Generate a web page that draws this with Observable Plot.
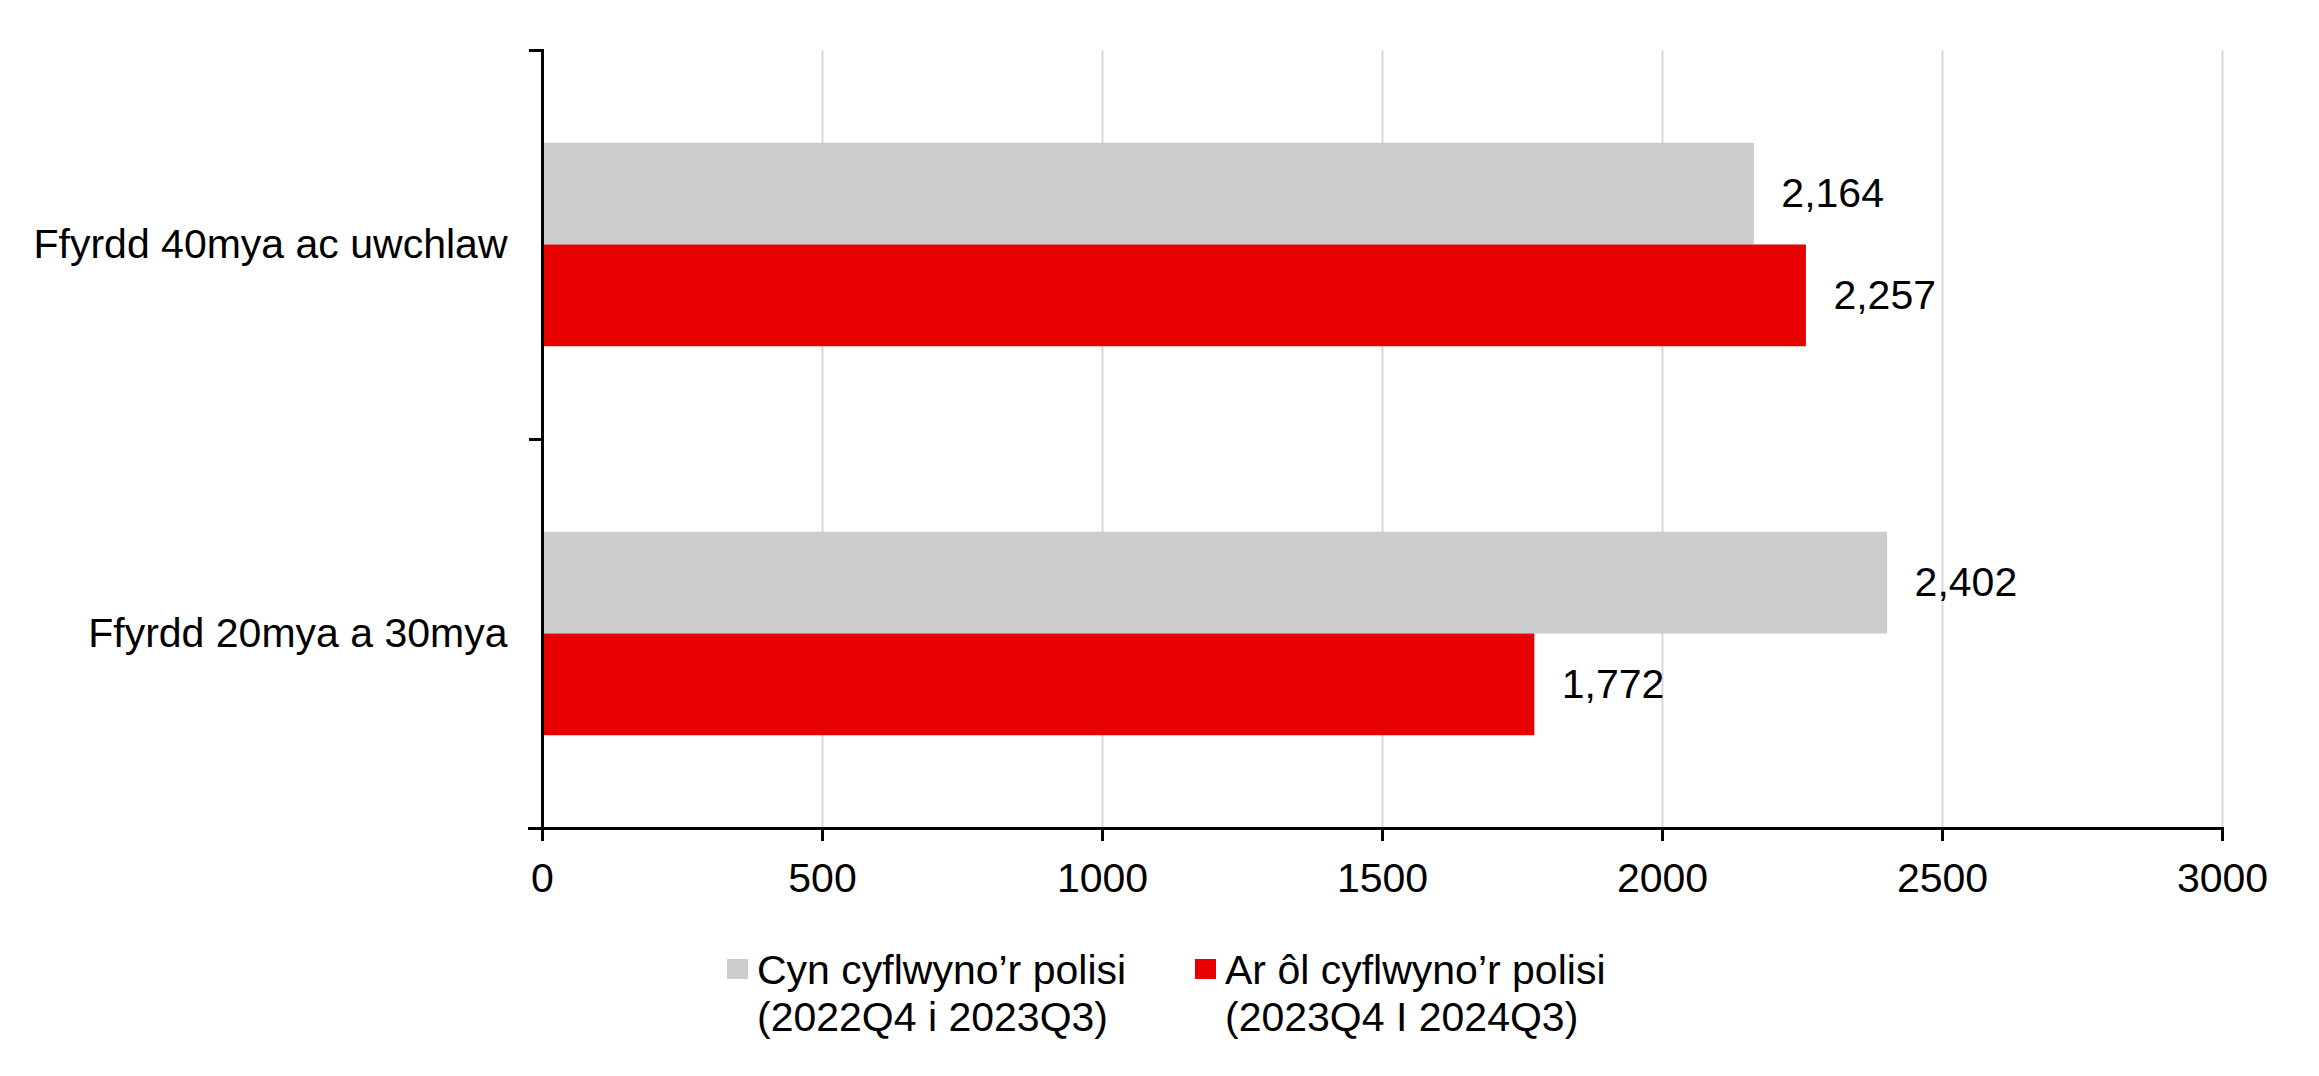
<!DOCTYPE html>
<html><head><meta charset="utf-8">
<script src="https://cdn.jsdelivr.net/npm/d3@7"></script>
<script src="https://cdn.jsdelivr.net/npm/@observablehq/plot@0.6"></script>
<style>
html,body{margin:0;padding:0;background:#fff;}
body{width:2319px;height:1076px;overflow:hidden;font-family:"Liberation Sans",Arial,sans-serif;}
#chart svg{display:block;}
#legend{position:relative;height:156px;font-size:41px;line-height:47px;color:#000;}
.item{position:absolute;top:27px;display:flex;align-items:flex-start;white-space:nowrap;}
.sw{width:21px;height:20px;margin-top:12px;margin-right:9px;flex:none;}
</style></head><body>
<div id="chart"></div><div id="legend"></div>
<script>
const categories = ["Ffyrdd 40mya ac uwchlaw", "Ffyrdd 20mya a 30mya"];
const seriesLine1 = ["Cyn cyflwyno’r polisi", "Ar ôl cyflwyno’r polisi"];
const seriesLine2 = ["(2022Q4 i 2023Q3)", "(2023Q4 I 2024Q3)"];
const before = [2164, 2402];
const after = [2257, 1772];
const xTicks = [0, 500, 1000, 1500, 2000, 2500, 3000];
const colors = ["#cccccc", "#e60000"];

const W = 2319, H = 920, mt = 50, mb = 92, ml = 542, mr = 97;
const bandH = (H - mt - mb) / categories.length;
const barH = bandH * 0.2615;
const outer = (bandH - 2 * barH) / 2;

const rowsBefore = categories.map((c, i) => ({category: c, value: before[i]}));
const rowsAfter = categories.map((c, i) => ({category: c, value: after[i]}));
const fmt = d3.format(",");

const chart = Plot.plot({
  width: W, height: H,
  marginTop: mt, marginBottom: mb, marginLeft: ml, marginRight: mr,
  style: {fontFamily: '"Liberation Sans", Arial, sans-serif', fontSize: "41px", color: "#000", background: "#fff"},
  x: {domain: [0, 3000]},
  y: {type: "band", domain: categories, padding: 0},
  marks: [
    Plot.gridX(xTicks.slice(1), {stroke: "#d9d9d9", strokeOpacity: 1, strokeWidth: 2}),
    Plot.barX(rowsBefore, {x: "value", y: "category", fill: colors[0], insetTop: outer, insetBottom: outer + barH}),
    Plot.barX(rowsAfter, {x: "value", y: "category", fill: colors[1], insetTop: outer + barH, insetBottom: outer}),
    Plot.text(rowsBefore, {x: "value", y: "category", text: d => fmt(d.value), dx: 27, dy: -barH / 2, textAnchor: "start", fontSize: 41, fill: "#000"}),
    Plot.text(rowsAfter, {x: "value", y: "category", text: d => fmt(d.value), dx: 27, dy: barH / 2, textAnchor: "start", fontSize: 41, fill: "#000"}),
    Plot.frame({anchor: "left", stroke: "#000", strokeWidth: 3}),
    Plot.frame({anchor: "bottom", stroke: "#000", strokeWidth: 3, insetLeft: -13}),
    Plot.axisY({tickSize: 0, tickPadding: 35, fontSize: 41, label: null}),
    Plot.axisY({tickSize: 13, tickFormat: () => "", dy: -bandH / 2, strokeWidth: 3, label: null}),
    Plot.axisY([categories[categories.length - 1]], {tickSize: 13, tickFormat: () => "", dy: bandH / 2, strokeWidth: 3, label: null}),
    Plot.axisX(xTicks, {tickSize: 13, tickPadding: 21, strokeWidth: 3, fontSize: 41, label: null, tickFormat: d => String(d)})
  ]
});
document.getElementById("chart").appendChild(chart);

const legend = document.getElementById("legend");
const lefts = [727, 1195];
seriesLine1.forEach((s, i) => {
  const item = document.createElement("div");
  item.className = "item";
  item.style.left = lefts[i] + "px";
  const sw = document.createElement("div");
  sw.className = "sw";
  sw.style.background = colors[i];
  const txt = document.createElement("div");
  txt.innerHTML = s + "<br>" + seriesLine2[i];
  item.appendChild(sw);
  item.appendChild(txt);
  legend.appendChild(item);
});
</script>
</body></html>
